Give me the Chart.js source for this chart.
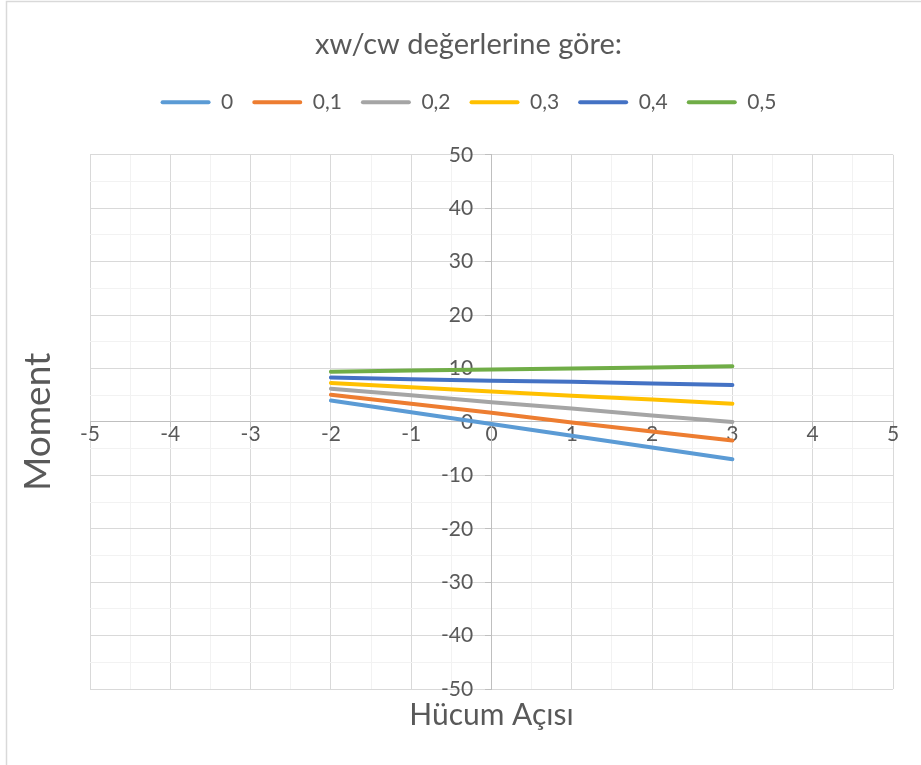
<!DOCTYPE html>
<html>
<head>
<meta charset="utf-8">
<script src="https://cdn.jsdelivr.net/npm/chart.js@4/dist/chart.umd.min.js"></script>
<style>
html,body{margin:0;padding:0;background:#fff;}
#wrap{width:921px;height:765px;position:relative;}
</style>
</head>
<body>
<div id="wrap"><canvas id="c" width="921" height="765"></canvas></div>
<script>
const chartTitle = 'xw/cw değerlerine göre:';
const xTitle = 'Hücum Açısı';
const yTitle = 'Moment';
const xValues = [-2, -1, 0, 1, 2, 3];
const seriesNames = ['0', '0,1', '0,2', '0,3', '0,4', '0,5'];
const s0  = [4.0, 1.8, -0.4, -2.6, -4.8, -7.0];
const s01 = [5.1, 3.4, 1.7, -0.1, -1.8, -3.5];
const s02 = [6.2, 5.0, 3.7, 2.5, 1.2, 0.0];
const s03 = [7.3, 6.5, 5.7, 4.9, 4.2, 3.4];
const s04 = [8.3, 8.0, 7.7, 7.5, 7.2, 6.9];
const s05 = [9.4, 9.6, 9.8, 10.0, 10.2, 10.4];
const seriesValues = [s0, s01, s02, s03, s04, s05];
const colors = ['#5B9BD5', '#ED7D31', '#A5A5A5', '#FFC000', '#4472C4', '#70AD47'];
const xMin = -5, xMax = 5, yMin = -50, yMax = 50;

const FONT = 'Lato';
const TXT = '#595959';
const isMult = (v, m) => Math.abs(v / m - Math.round(v / m)) < 1e-6;

const datasets = seriesNames.map((n, i) => ({
  label: n,
  data: xValues.map((x, j) => ({x: x, y: seriesValues[i][j]})),
  borderColor: colors[i],
  backgroundColor: colors[i],
  borderWidth: 4,
  pointRadius: 0,
  pointHoverRadius: 0,
  showLine: true,
  tension: 0,
  borderCapStyle: 'round'
}));

const frame = {
  id: 'frame',
  beforeDraw(chart) {
    const c = chart.ctx;
    c.save();
    c.fillStyle = '#fff';
    c.fillRect(0, 0, chart.width, chart.height);
    c.strokeStyle = '#d9d9d9';
    c.lineWidth = 1.5;
    c.strokeRect(6.5, 1.5, 940, 800);
    c.restore();
  }
};

const dummy = (axis, position, size, title) => ({
  axis: axis,
  position: position,
  display: true,
  grid: {display: false, drawTicks: false},
  border: {display: false},
  ticks: {display: false},
  title: title || {display: false},
  afterFit(s) { if (s.isHorizontal()) s.height = size; else s.width = size; }
});

new Chart(document.getElementById('c'), {
  type: 'scatter',
  data: {datasets},
  plugins: [frame],
  options: {
    responsive: false,
    animation: false,
    events: [],
    layout: {padding: {left: 6, right: -10, top: 0, bottom: 0}},
    plugins: {
      title: {
        display: true,
        text: chartTitle,
        color: TXT,
        font: {family: FONT, size: 29, weight: 'normal'},
        padding: {top: 27, bottom: 11}
      },
      legend: {
        display: true,
        position: 'top',
        labels: {
          color: TXT,
          font: {family: FONT, size: 21},
          boxWidth: 50,
          boxHeight: 4,
          padding: 19,
          useBorderRadius: true,
          borderRadius: 2,
          generateLabels(chart) {
            return Chart.defaults.plugins.legend.labels.generateLabels(chart).map(l => Object.assign(l, {lineWidth: 0}));
          }
        }
      },
      tooltip: {enabled: false}
    },
    scales: {
      x: {
        type: 'linear',
        position: {y: 0},
        min: xMin, max: xMax,
        grid: {
          color: c => (c.tick && isMult(c.tick.value, 1)) ? '#d9d9d9' : '#f2f2f2',
          tickColor: c => (c.tick && isMult(c.tick.value, 1)) ? '#bfbfbf' : 'rgba(0,0,0,0)',
          tickLength: 5,
          lineWidth: 1
        },
        border: {display: true, color: '#bfbfbf', width: 1},
        ticks: {
          stepSize: 0.5,
          autoSkip: false,
          maxRotation: 0,
          padding: -5,
          color: TXT,
          font: {family: FONT, size: 21},
          callback: v => isMult(v, 1) ? String(Math.round(v)) : ''
        }
      },
      y: {
        type: 'linear',
        position: {x: 0},
        min: yMin, max: yMax,
        grid: {
          color: c => (c.tick && isMult(c.tick.value, 10)) ? '#d9d9d9' : '#f2f2f2',
          tickColor: c => (c.tick && isMult(c.tick.value, 10)) ? '#bfbfbf' : 'rgba(0,0,0,0)',
          tickLength: 6,
          lineWidth: 1
        },
        border: {display: true, color: '#bfbfbf', width: 1},
        ticks: {
          stepSize: 5,
          autoSkip: false,
          padding: 14,
          color: TXT,
          font: {family: FONT, size: 21},
          callback: v => isMult(v, 10) ? String(Math.round(v)) + '\u2003\u2009' : ''
        }
      },
      padL: dummy('y', 'left', 84, {display: true, text: yTitle, color: TXT, font: {family: FONT, size: 37}, padding: {top: 10, bottom: 0}}),
      padR: dummy('y', 'right', 38),
      padT: dummy('x', 'top', 32),
      padB: dummy('x', 'bottom', 76, {display: true, text: xTitle, color: TXT, font: {family: FONT, size: 30}, padding: {top: 0, bottom: 32}})
    }
  }
});
</script>
</body>
</html>
